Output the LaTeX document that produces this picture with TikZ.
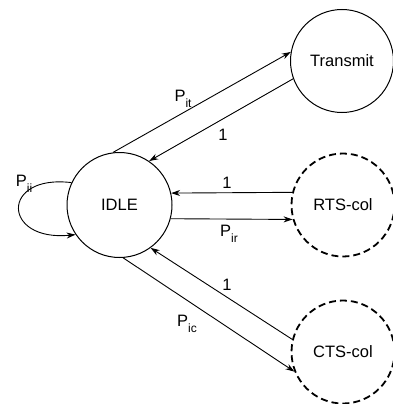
\documentclass[tikz,border=0pt]{standalone}
\usepackage{fontspec}
\setmainfont{Liberation Sans}
\usetikzlibrary{arrows.meta}
\newcommand{\lbl}[2]{#1\raisebox{-6pt}{\fontsize{12}{12}\selectfont #2}}
\begin{document}
\begin{tikzpicture}[x=1pt,y=1pt,
  every node/.style={font=\fontsize{16.5}{18}\selectfont},
  state/.style={circle,draw,line width=1pt,minimum size=103pt,inner sep=0pt},
  dstate/.style={state,line width=1.8pt,dash pattern=on 7pt off 4pt},
  conn/.style={line width=0.9pt,-{Stealth[length=9pt,width=6pt]}},
  lab/.style={inner sep=0pt}]
\useasboundingbox (0,0) rectangle (393,-404);
\node[state,minimum size=105pt] (idle) at (119.5,-205) {IDLE};
\node[state] (tr) at (342,-61) {Transmit};
\node[dstate] (rts) at (343,-205) {RTS-col};
\node[dstate] (cts) at (343,-352) {CTS-col};
% transmit
\draw[conn] (idle.97) -- (tr.170);
\draw[conn] (tr.200) -- (idle.56);
% rts
\draw[conn] (rts.166) -- (idle.13);
\draw[conn] (idle.-15.5) -- (rts.196);
% cts
\draw[conn] (cts.166) -- (idle.-54);
\draw[conn] (idle.-86) -- (cts.202);
% self loop
\draw[conn] (idle.155) .. controls (0,-174) and (2,-242) .. (idle.214);
% labels
\node[lab] (lit) at (183,-99) {\lbl{P}{it}};
\node[lab] (l1a) at (223,-135) {1};
\node[lab] (l1b) at (227,-183) {1};
\node[lab] (lir) at (229,-234) {\lbl{P}{ir}};
\node[lab] (l1c) at (227,-285) {1};
\node[lab] (lic) at (187,-324) {\lbl{P}{ic}};
\node[lab] (lii) at (24,-184) {\lbl{P}{ii}};
\end{tikzpicture}
\end{document}
